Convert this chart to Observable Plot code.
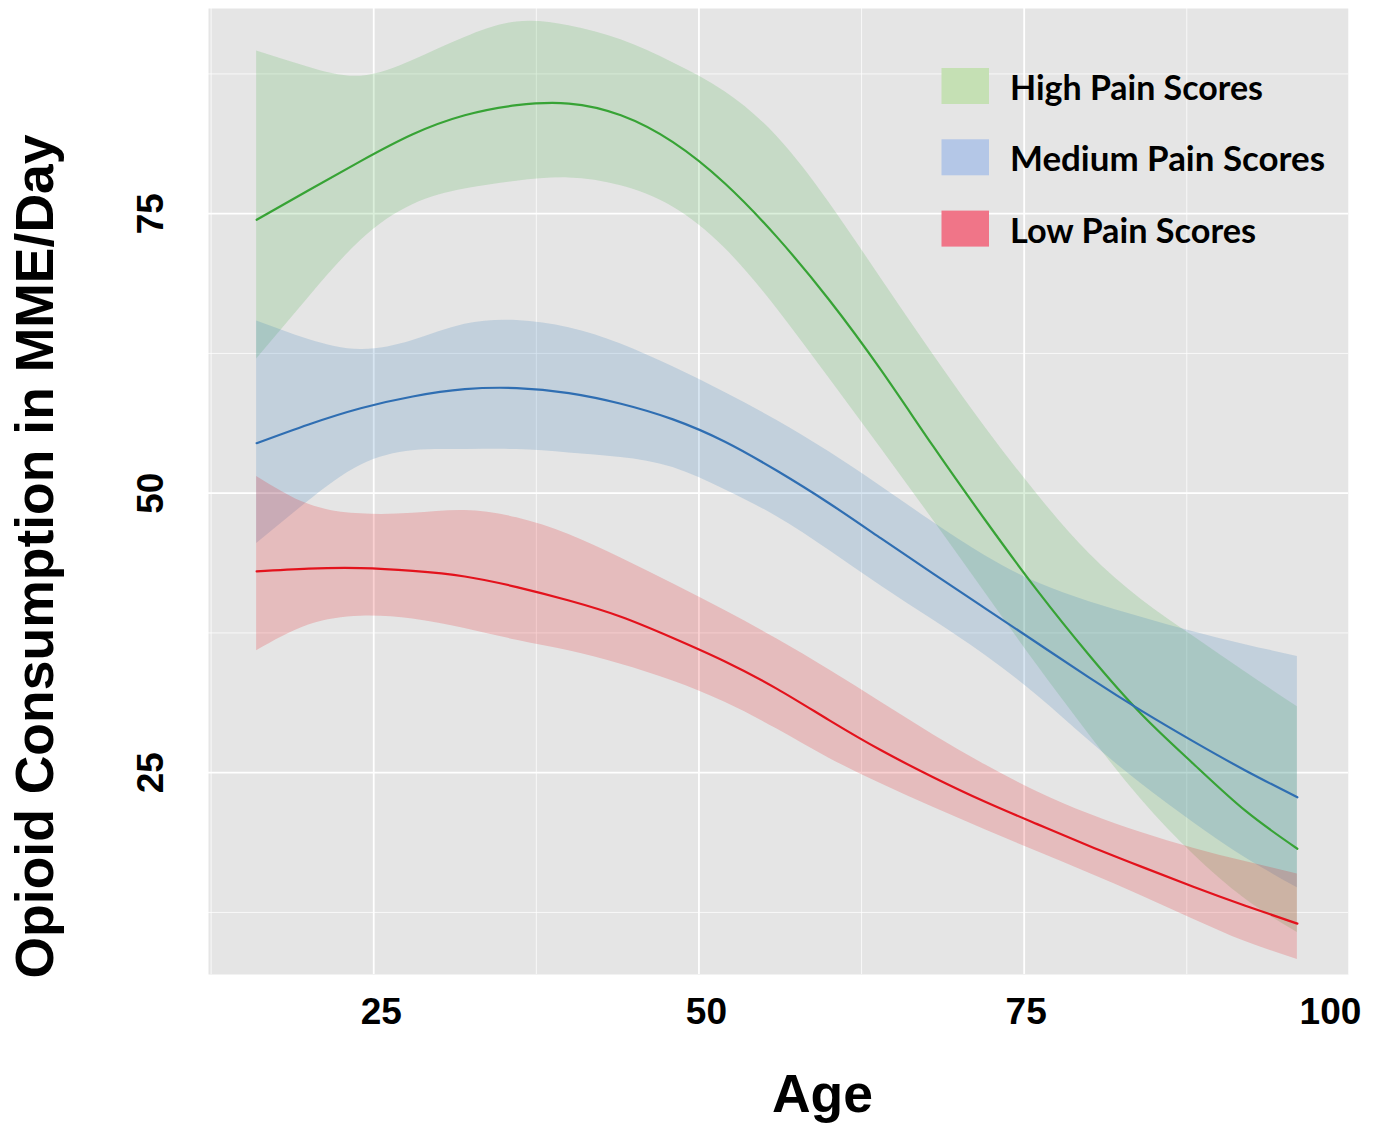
<!DOCTYPE html>
<html>
<head>
<meta charset="utf-8">
<script src="https://cdn.jsdelivr.net/npm/d3@7"></script>
<script src="https://cdn.jsdelivr.net/npm/@observablehq/plot@0.6"></script>
<style>
  html, body { margin: 0; padding: 0; background: #ffffff; overflow: hidden; }
  #chart { position: relative; width: 1378px; height: 1125px; }
  #chart svg { display: block; max-width: none !important; }
</style>
</head>
<body>
<div id="chart"></div>
<script>
// ---------- data ----------
const ages = [16, 20, 24, 28, 32, 36, 40, 44, 48, 52, 56, 60, 64, 68, 72, 76, 80, 84, 88, 92, 96];

const highMean  = [74.45, 77.1, 79.7, 82.1, 83.8, 84.7, 84.85, 83.8, 81.4, 77.7, 72.9, 67.3, 61.0, 54.2, 47.6, 41.3, 35.5, 30.25, 25.8, 21.6, 18.2];
const highUpper = [89.55, 88.1, 87.3, 88.7, 90.75, 92.15, 91.8, 90.55, 88.5, 85.9, 81.9, 76.0, 69.2, 62.4, 55.9, 49.9, 44.6, 40.5, 37.2, 34.0, 30.9];
const highLower = [62.0, 67.5, 72.6, 75.8, 77.2, 77.9, 78.2, 77.5, 75.6, 71.9, 66.5, 60.3, 54.0, 47.6, 41.1, 34.6, 28.4, 22.6, 17.7, 13.7, 10.7];

const mediumMean  = [54.47, 56.15, 57.6, 58.65, 59.3, 59.4, 58.95, 58.0, 56.6, 54.6, 52.0, 49.1, 45.95, 42.8, 39.7, 36.6, 33.5, 30.55, 27.8, 25.2, 22.8];
const mediumUpper = [65.4, 63.75, 62.85, 63.65, 65.1, 65.45, 64.8, 63.35, 61.3, 59.0, 56.5, 53.7, 50.6, 47.4, 44.4, 42.0, 40.3, 38.9, 37.6, 36.45, 35.4];
const mediumLower = [45.5, 49.3, 52.5, 53.8, 53.9, 53.9, 53.6, 53.2, 52.3, 50.3, 47.9, 44.9, 41.7, 38.65, 35.5, 31.9, 27.85, 24.0, 20.55, 17.4, 14.7];

const lowMean  = [43.0, 43.25, 43.3, 43.05, 42.55, 41.6, 40.4, 38.95, 37.05, 34.95, 32.5, 29.7, 27.0, 24.6, 22.4, 20.4, 18.45, 16.6, 14.8, 13.1, 11.5];
const lowUpper = [51.5, 49.0, 48.15, 48.2, 48.45, 47.8, 46.3, 44.2, 41.9, 39.5, 36.95, 34.2, 31.3, 28.4, 25.7, 23.3, 21.3, 19.65, 18.25, 17.05, 15.95];
const lowLower = [35.9, 38.2, 39.0, 38.75, 37.9, 36.85, 35.9, 34.7, 33.2, 31.3, 28.9, 26.3, 24.0, 21.9, 19.9, 17.95, 16.0, 14.0, 11.9, 9.9, 8.3];

const seriesNames = ["High Pain Scores", "Medium Pain Scores", "Low Pain Scores"];
const bandColors  = ["#4daf4a", "#377eb8", "#e41a1c"];
const lineColors  = ["#37a335", "#2f6eb2", "#e3121c"];
const legendColors = ["#c5e0b4", "#b4c7e7", "#f07588"];

const xMajorTicks = [25, 50, 75, 100];
const xMinorTicks = [12.5, 37.5, 62.5, 87.5];
const yMajorTicks = [25, 50, 75];
const yMinorTicks = [12.5, 37.5, 62.5, 87.5];

const xTitle = "Age";
const yTitle = "Opioid Consumption in MME/Day";

// ---------- build tables ----------
function rowsFor(mean, lower, upper) {
  return ages.map((a, i) => ({age: a, mean: mean[i], lower: lower[i], upper: upper[i]}));
}
const series = [
  rowsFor(highMean, highLower, highUpper),
  rowsFor(mediumMean, mediumLower, mediumUpper),
  rowsFor(lowMean, lowLower, lowUpper)
];

const axisFont = "'Liberation Sans', Arial, Helvetica, sans-serif";
const curve = "natural";

const marks = [
  Plot.frame({fill: "#e5e5e5", stroke: null}),
  Plot.gridX(xMinorTicks, {stroke: "#ffffff", strokeOpacity: 0.75, strokeWidth: 1}),
  Plot.gridY(yMinorTicks, {stroke: "#ffffff", strokeOpacity: 0.75, strokeWidth: 1}),
  Plot.gridX(xMajorTicks, {stroke: "#ffffff", strokeOpacity: 1, strokeWidth: 1.8}),
  Plot.gridY(yMajorTicks, {stroke: "#ffffff", strokeOpacity: 1, strokeWidth: 1.8})
];
series.forEach((rows, k) => {
  marks.push(Plot.areaY(rows, {x: "age", y1: "lower", y2: "upper", fill: bandColors[k], fillOpacity: 0.2, curve}));
});
series.forEach((rows, k) => {
  marks.push(Plot.line(rows, {x: "age", y: "mean", stroke: lineColors[k], strokeWidth: 2.2, curve}));
});

// axis tick labels
const tickStyle = {fontSize: 37, fontWeight: "bold", fill: "#000", fontFamily: axisFont, textAnchor: "middle", lineAnchor: "middle"};
marks.push(Plot.text([25, 50], {x: d => d, text: d => String(d), frameAnchor: "bottom", dy: 37.5, dx: 7.5, ...tickStyle}));
marks.push(Plot.text([75], {x: d => d, text: d => String(d), frameAnchor: "bottom", dy: 37.5, dx: 2, ...tickStyle}));
marks.push(Plot.text([100], {x: d => d, text: d => String(d), frameAnchor: "bottom", dy: 37.5, dx: -19, ...tickStyle}));
marks.push(Plot.text(yMajorTicks, {y: d => d, text: d => String(d), frameAnchor: "left", rotate: -90, dx: -57, ...tickStyle}));

// axis titles
const titleStyle = {fontSize: 53.5, fontWeight: "bold", fill: "#000", fontFamily: axisFont, textAnchor: "middle", lineAnchor: "middle"};
marks.push(Plot.text([xTitle], {frameAnchor: "bottom", dx: 44, dy: 120.5, ...titleStyle}));
marks.push(Plot.text([yTitle], {frameAnchor: "left", rotate: -90, dx: -172.5, dy: 65, ...titleStyle}));

const chart = Plot.plot({
  width: 1378,
  height: 1125,
  marginLeft: 208,
  marginRight: 30,
  marginTop: 8,
  marginBottom: 151,
  x: {domain: [12.3, 99.93], axis: null},
  y: {domain: [6.95, 93.35], axis: null},
  style: {background: "#ffffff", fontFamily: axisFont},
  marks
});

document.getElementById("chart").appendChild(chart);

// ---------- legend (inside the panel, top right) ----------
const svg = d3.select(chart);
const legend = svg.append("g").attr("class", "legend").attr("text-anchor", "start");
const legendWidths = [253, 315, 246];
seriesNames.forEach((name, k) => {
  const top = 68 + k * 71.3;
  legend.append("rect")
    .attr("x", 941.5).attr("y", top).attr("width", 47.5).attr("height", 36)
    .attr("fill", legendColors[k]);
  legend.append("text")
    .attr("x", 1010).attr("y", top + 32)
    .attr("text-anchor", "start")
    .attr("font-family", "Lato, 'Open Sans', sans-serif")
    .attr("font-weight", "bold")
    .attr("font-size", 35)
    .attr("fill", "#000")
    .attr("textLength", legendWidths[k])
    .attr("lengthAdjust", "spacingAndGlyphs")
    .text(name);
});
</script>
</body>
</html>
